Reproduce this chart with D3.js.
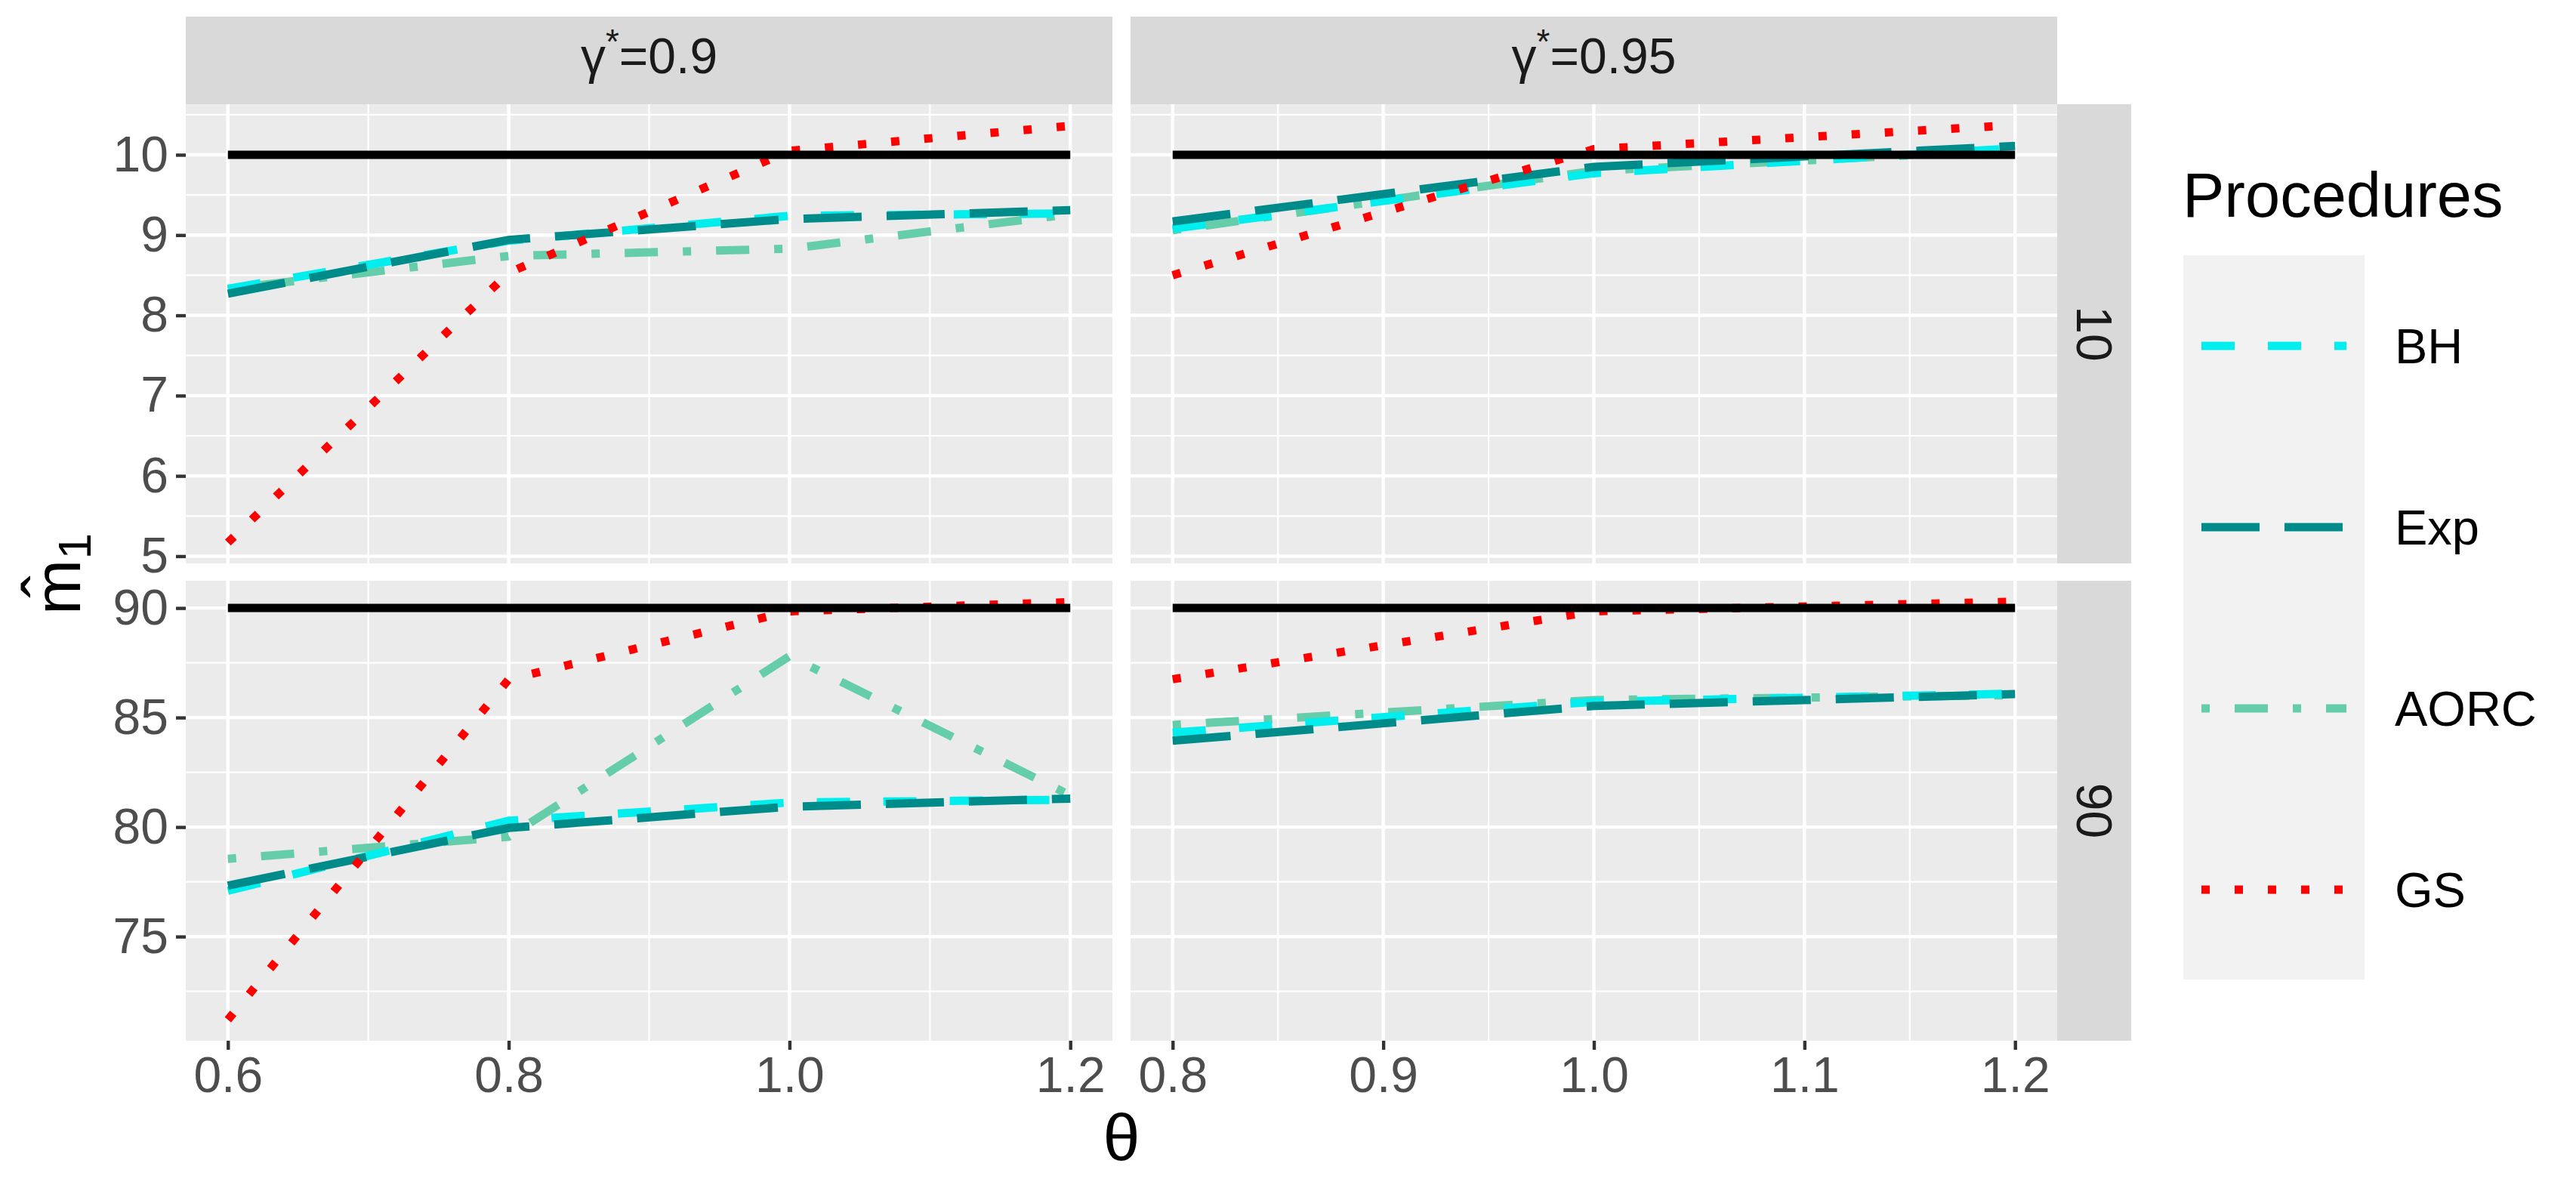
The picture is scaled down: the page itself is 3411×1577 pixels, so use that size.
<!DOCTYPE html>
<html>
<head>
<meta charset="utf-8">
<script src="https://cdn.jsdelivr.net/npm/d3@7"></script>
<style>
  body { margin: 0; background: #fff; }
  text { font-family: "Liberation Sans", Arial, sans-serif; }
</style>
</head>
<body>
<script>
// facet levels
const gammaLabels = ["0.9", "0.95"];
const m1Values = [10, 90];

const procedures = ["BH", "Exp", "AORC", "GS"];
const procColors = ["#00EEEE", "#008B8B", "#66CDAA", "#FF0000"];
const procDashes = ["44", "73", "1343", "13"];   // R linetypes dashed, longdash, dotdash, dotted
const drawOrder = ["AORC", "BH", "Exp", "GS"];

const thetaG090 = [0.6, 0.8, 1.0, 1.2];
const thetaG095 = [0.8, 1.0, 1.2];
const xTicksG090 = [0.6, 0.8, 1.0, 1.2];
const xTicksG095 = [0.8, 0.9, 1.0, 1.1, 1.2];
const yTicksM10 = [5, 6, 7, 8, 9, 10];
const yTicksM90 = [75, 80, 85, 90];

// m1 = 10
const bhG090M10 = [8.33, 8.93, 9.24, 9.27];
const expG090M10 = [8.27, 8.94, 9.20, 9.31];
const aorcG090M10 = [8.33, 8.74, 8.83, 9.26];
const gsG090M10 = [5.17, 8.53, 10.05, 10.36];

const bhG095M10 = [9.08, 9.77, 10.08];
const expG095M10 = [9.17, 9.85, 10.11];
const aorcG095M10 = [9.06, 9.80, 10.06];
const gsG095M10 = [8.50, 10.07, 10.37];

// m1 = 90
const bhG090M90 = [77.09, 80.29, 81.12, 81.25];
const expG090M90 = [77.33, 79.96, 80.93, 81.30];
const aorcG090M90 = [78.55, 79.56, 87.80, 81.45];
const gsG090M90 = [71.20, 86.74, 89.85, 90.27];

const bhG095M90 = [84.31, 85.72, 86.09];
const expG095M90 = [83.94, 85.53, 86.07];
const aorcG095M90 = [84.66, 85.80, 86.02];
const gsG095M90 = [86.75, 89.85, 90.29];

const W = 3411, H = 1577;
const lwd = 11;
const colX = [[246, 1473], [1497, 2724]];
const rowY = [[138, 746], [769, 1378]];

const panels = [
  { row: 0, col: 0, theta: thetaG090, xTicks: xTicksG090, yTicks: yTicksM10,
    series: { BH: bhG090M10, Exp: expG090M10, AORC: aorcG090M10, GS: gsG090M10 } },
  { row: 0, col: 1, theta: thetaG095, xTicks: xTicksG095, yTicks: yTicksM10,
    series: { BH: bhG095M10, Exp: expG095M10, AORC: aorcG095M10, GS: gsG095M10 } },
  { row: 1, col: 0, theta: thetaG090, xTicks: xTicksG090, yTicks: yTicksM90,
    series: { BH: bhG090M90, Exp: expG090M90, AORC: aorcG090M90, GS: gsG090M90 } },
  { row: 1, col: 1, theta: thetaG095, xTicks: xTicksG095, yTicks: yTicksM90,
    series: { BH: bhG095M90, Exp: expG095M90, AORC: aorcG095M90, GS: gsG095M90 } }
];

function expand(ext) {
  let pad = (ext[1] - ext[0]) * 0.05;
  return [ext[0] - pad, ext[1] + pad];
}

function minorBreaks(major, domain) {
  let step = major[1] - major[0], out = [];
  for (let i = -1; i < major.length; i++) {
    let v = major[0] + step * (i + 0.5);
    if (v >= domain[0] && v <= domain[1]) out.push(v);
  }
  return out;
}

function dashArray(code) {
  return code.split("").map(c => parseInt(c, 16) * lwd).join(",");
}

// x scales per column, y scales per row (free scales, shared across row/col)
let xScales = [thetaG090, thetaG095].map((t, i) =>
  d3.scaleLinear().domain(expand(d3.extent(t))).range(colX[i]));

let yScales = [0, 1].map(r => {
  let vals = [m1Values[r]];
  panels.filter(p => p.row === r).forEach(p => procedures.forEach(k => vals.push(...p.series[k])));
  return d3.scaleLinear().domain(expand(d3.extent(vals))).range([rowY[r][1], rowY[r][0]]);
});

const svg = d3.select("body").append("svg")
  .attr("width", W).attr("height", H);

svg.append("rect").attr("width", W).attr("height", H).attr("fill", "#fff");

panels.forEach(p => {
  let x = xScales[p.col], y = yScales[p.row];
  let g = svg.append("g");

  g.append("rect")
    .attr("x", colX[p.col][0]).attr("y", rowY[p.row][0])
    .attr("width", colX[p.col][1] - colX[p.col][0])
    .attr("height", rowY[p.row][1] - rowY[p.row][0])
    .attr("fill", "#EBEBEB");

  // grid
  g.selectAll(".ymin").data(minorBreaks(p.yTicks, y.domain())).join("line")
    .attr("x1", colX[p.col][0]).attr("x2", colX[p.col][1])
    .attr("y1", d => y(d)).attr("y2", d => y(d))
    .attr("stroke", "#fff").attr("stroke-width", 2.2);
  g.selectAll(".xmin").data(minorBreaks(p.xTicks, x.domain())).join("line")
    .attr("y1", rowY[p.row][0]).attr("y2", rowY[p.row][1])
    .attr("x1", d => x(d)).attr("x2", d => x(d))
    .attr("stroke", "#fff").attr("stroke-width", 2.2);
  g.selectAll(".ymaj").data(p.yTicks).join("line")
    .attr("x1", colX[p.col][0]).attr("x2", colX[p.col][1])
    .attr("y1", d => y(d)).attr("y2", d => y(d))
    .attr("stroke", "#fff").attr("stroke-width", 4.4);
  g.selectAll(".xmaj").data(p.xTicks).join("line")
    .attr("y1", rowY[p.row][0]).attr("y2", rowY[p.row][1])
    .attr("x1", d => x(d)).attr("x2", d => x(d))
    .attr("stroke", "#fff").attr("stroke-width", 4.4);

  let line = d3.line()
    .x((d, i) => x(p.theta[i]))
    .y(d => y(d));

  drawOrder.forEach(k => {
    let idx = procedures.indexOf(k);
    g.append("path")
      .datum(p.series[k])
      .attr("d", line)
      .attr("fill", "none")
      .attr("stroke", procColors[idx])
      .attr("stroke-width", lwd)
      .attr("stroke-dasharray", dashArray(procDashes[idx]))
      .attr("stroke-linecap", "butt");
  });

  // true value
  let ext = d3.extent(p.theta);
  g.append("line")
    .attr("x1", x(ext[0])).attr("x2", x(ext[1]))
    .attr("y1", y(m1Values[p.row])).attr("y2", y(m1Values[p.row]))
    .attr("stroke", "#000").attr("stroke-width", lwd);

  // axes on outer panels
  if (p.col === 0) {
    let ax = g.append("g").attr("transform", `translate(${colX[0][0]},0)`)
      .call(d3.axisLeft(y).tickValues(p.yTicks).tickSize(13).tickPadding(10).tickFormat(d3.format("d")));
    ax.select(".domain").remove();
    ax.selectAll(".tick line").attr("stroke", "#333").attr("stroke-width", 4.4);
    ax.selectAll(".tick text").attr("fill", "#4D4D4D").attr("font-size", 66)
      .attr("font-family", "Liberation Sans, Arial, sans-serif");
  }
  if (p.row === 1) {
    let ax = g.append("g").attr("transform", `translate(0,${rowY[1][1]})`)
      .call(d3.axisBottom(x).tickValues(p.xTicks).tickSize(12).tickPadding(9).tickFormat(d3.format(".1f")));
    ax.select(".domain").remove();
    ax.selectAll(".tick line").attr("stroke", "#333").attr("stroke-width", 4.4);
    ax.selectAll(".tick text").attr("fill", "#4D4D4D").attr("font-size", 66)
      .attr("font-family", "Liberation Sans, Arial, sans-serif");
  }
});

// column strips
gammaLabels.forEach((gl, i) => {
  svg.append("rect")
    .attr("x", colX[i][0]).attr("y", 22)
    .attr("width", colX[i][1] - colX[i][0]).attr("height", rowY[0][0] - 22)
    .attr("fill", "#D9D9D9");
  let t = svg.append("text")
    .attr("x", (colX[i][0] + colX[i][1]) / 2).attr("y", 97)
    .attr("text-anchor", "middle").attr("font-size", 66).attr("fill", "#1A1A1A");
  t.append("tspan").text("γ");
  t.append("tspan").attr("font-size", 46).attr("dy", -26).text("*");
  t.append("tspan").attr("dy", 26).text("=" + gl);
});

// row strips
m1Values.forEach((m, r) => {
  svg.append("rect")
    .attr("x", colX[1][1]).attr("y", rowY[r][0])
    .attr("width", 98).attr("height", rowY[r][1] - rowY[r][0])
    .attr("fill", "#D9D9D9");
  svg.append("text")
    .attr("transform", `translate(${colX[1][1] + 49},${(rowY[r][0] + rowY[r][1]) / 2}) rotate(90)`)
    .attr("text-anchor", "middle").attr("dy", "0.35em")
    .attr("font-size", 66).attr("fill", "#1A1A1A")
    .text(m);
});

// axis titles
svg.append("text")
  .attr("x", (colX[0][0] + colX[1][1]) / 2).attr("y", 1536)
  .attr("text-anchor", "middle").attr("font-size", 88).attr("fill", "#000")
  .text("θ");

let yt = svg.append("text")
  .attr("transform", "translate(106,760) rotate(-90)")
  .attr("text-anchor", "middle").attr("font-size", 88).attr("fill", "#000");
yt.append("tspan").text("m\u0302");
yt.append("tspan").attr("font-size", 62).attr("dy", 14).text("1");

// legend
svg.append("text")
  .attr("x", 2890).attr("y", 287)
  .attr("font-size", 83).attr("fill", "#000")
  .text("Procedures");

svg.append("rect")
  .attr("x", 2891).attr("y", 338).attr("width", 240).attr("height", 959)
  .attr("fill", "#F2F2F2");

let leg = svg.selectAll(".leg").data(procedures).join("g")
  .attr("transform", (d, i) => `translate(0,${458 + i * 240})`);

leg.append("line")
  .attr("x1", 2915).attr("x2", 3107)
  .attr("stroke", (d, i) => procColors[i])
  .attr("stroke-width", lwd)
  .attr("stroke-dasharray", (d, i) => dashArray(procDashes[i]));

leg.append("text")
  .attr("x", 3171).attr("dy", "0.35em")
  .attr("font-size", 65).attr("fill", "#000")
  .text(d => d);
</script>
</body>
</html>
